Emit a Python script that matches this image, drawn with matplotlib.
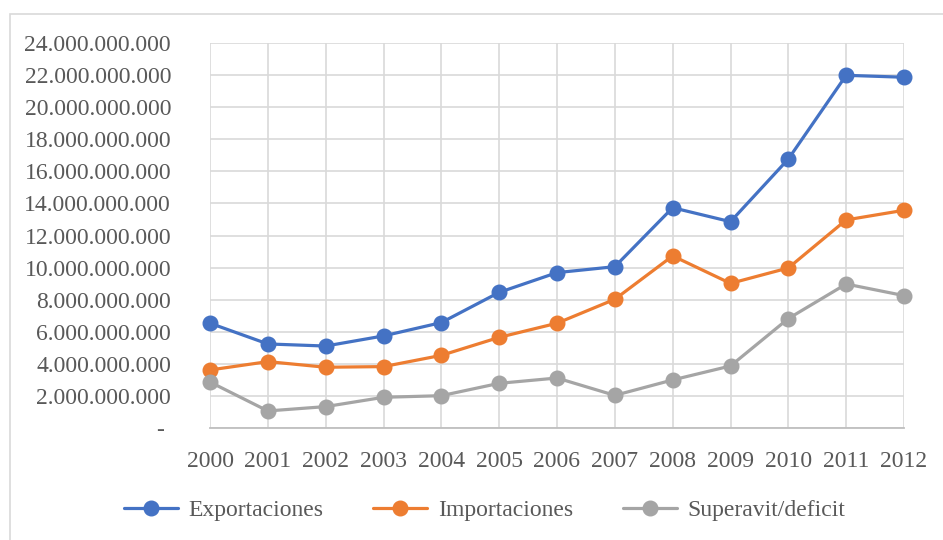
import matplotlib
matplotlib.use("Agg")
import matplotlib.pyplot as plt
from matplotlib.patches import Rectangle
from matplotlib.ticker import FixedLocator, FuncFormatter

years = [2000, 2001, 2002, 2003, 2004, 2005, 2006, 2007, 2008, 2009, 2010, 2011, 2012]
exportaciones = [6.54e9, 5.25e9, 5.12e9, 5.75e9, 6.58e9, 8.46e9, 9.69e9, 10.06e9,
                 13.73e9, 12.86e9, 16.76e9, 21.97e9, 21.85e9]
importaciones = [3.63e9, 4.15e9, 3.80e9, 3.84e9, 4.54e9, 5.66e9, 6.54e9, 8.03e9,
                 10.73e9, 9.02e9, 9.98e9, 12.97e9, 13.57e9]
superavit = [2.88e9, 1.08e9, 1.35e9, 1.93e9, 2.03e9, 2.80e9, 3.13e9, 2.05e9,
             3.01e9, 3.88e9, 6.83e9, 8.98e9, 8.26e9]
series_names = ["Exportaciones", "Importaciones", "Superavit/deficit"]
colors = ["#4472C4", "#ED7D31", "#A5A5A5"]

plt.rcParams['font.family'] = ['Liberation Serif', 'DejaVu Serif']
W, H = 943, 540
fig = plt.figure(figsize=(W / 100, H / 100), dpi=100)

# chart area border (light gray)
fig.patches.append(Rectangle((9.5 / W, 0 - 0.01), 1.0, 1 - 13.5 / H + 0.01,
                             transform=fig.transFigure, fill=False,
                             edgecolor="#D9D9D9", linewidth=1.2))

left, right, top, bottom = 210, 904, 42.7, 428.3
ax = fig.add_axes([left / W, 1 - bottom / H, (right - left) / W, (bottom - top) / H])

for vals, name, c in zip([exportaciones, importaciones, superavit], series_names, colors):
    ax.plot(years, vals, color=c, linewidth=2.3, marker='o', markersize=10.5,
            markeredgecolor=c, markerfacecolor=c, label=name, zorder=3,
            solid_capstyle='round', clip_on=False)

ax.set_xlim(2000, 2012)
ax.set_ylim(0, 24e9)
ax.yaxis.set_major_locator(FixedLocator([i * 2e9 for i in range(13)]))
ax.xaxis.set_major_locator(FixedLocator(years))


def yfmt(v, pos):
    if abs(v) < 1:
        return "- "
    return f"{int(round(v)):,}".replace(",", ".")


ax.yaxis.set_major_formatter(FuncFormatter(yfmt))
ax.set_xticklabels([str(y) for y in years])

ax.grid(True, color="#D9D9D9", linewidth=1.2, zorder=0)
ax.set_axisbelow(True)
for s in ["top", "right", "left"]:
    ax.spines[s].set_visible(False)
ax.spines["bottom"].set_color("#BFBFBF")
ax.spines["bottom"].set_linewidth(1.3)

ax.tick_params(axis='both', length=0, labelsize=17, labelcolor="#595959")
ax.tick_params(axis='y', pad=28)
ax.tick_params(axis='x', pad=16)

handles, labels = ax.get_legend_handles_labels()
fig.legend(handles, labels, loc='center', bbox_to_anchor=(484.5 / W, 1 - 510 / H),
           ncol=3, frameon=False, fontsize=17, labelcolor="#595959",
           handlelength=2.3, handletextpad=0.45, columnspacing=2.1,
           borderaxespad=0, borderpad=0)

fig.savefig("out.png", dpi=100, facecolor="white")
